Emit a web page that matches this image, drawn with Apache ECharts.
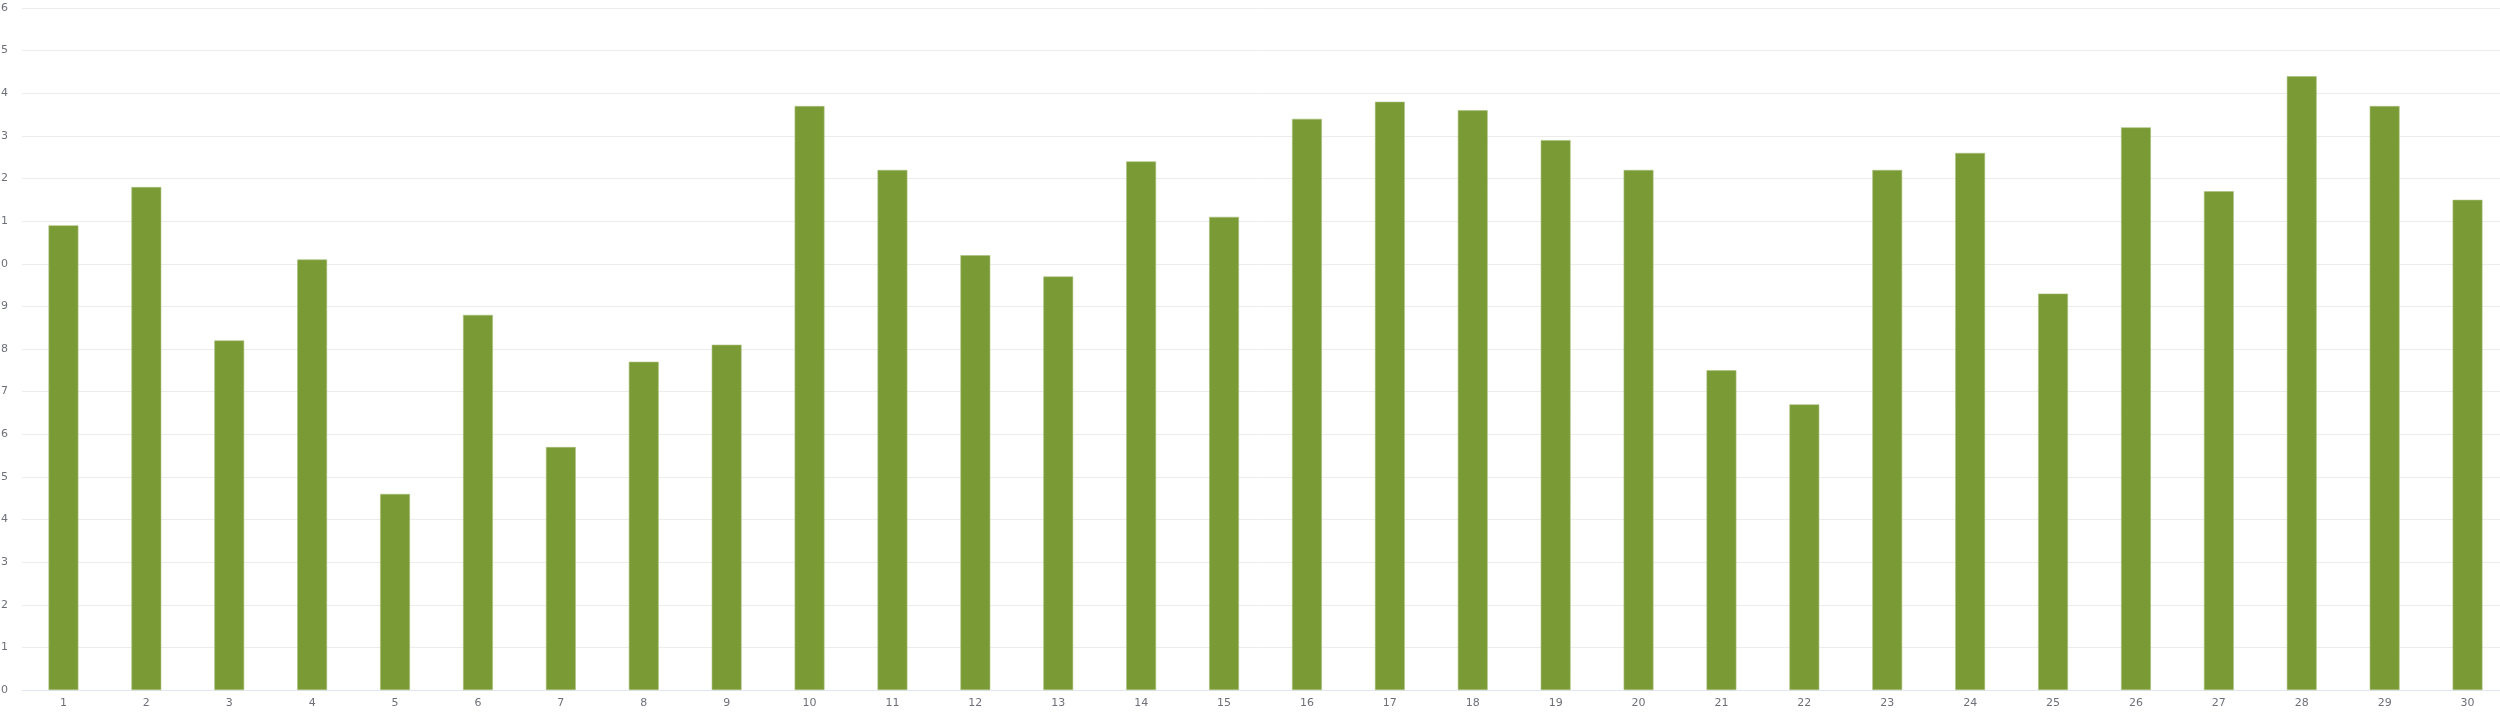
<!DOCTYPE html>
<html>
<head>
<meta charset="utf-8">
<script src="https://cdn.jsdelivr.net/npm/echarts@6/dist/echarts.min.js"></script>
<style>html,body{margin:0;padding:0;background:#fff}#c{width:2500px;height:717px}</style>
</head>
<body>
<div id="c"></div>
<script>
const categories = ['1','2','3','4','5','6','7','8','9','10','11','12','13','14','15','16','17','18','19','20','21','22','23','24','25','26','27','28','29','30'];
const values = [10.9,11.8,8.2,10.1,4.6,8.8,5.7,7.7,8.1,13.7,12.2,10.2,9.7,12.4,11.1,13.4,13.8,13.6,12.9,12.2,7.5,6.7,12.2,12.6,9.3,13.2,11.7,14.4,13.7,11.5];
const yMin = 0, yMax = 16, yStep = 1;

const chart = echarts.init(document.getElementById('c'), null, {renderer:'canvas'});
chart.setOption({
  animation: false,
  backgroundColor: '#fff',
  grid: {left: 22, width: 2487, top: 8, bottom: 27, outerBoundsMode: 'none'},
  xAxis: {
    type: 'category',
    data: categories,
    axisTick: {show: false},
    axisLine: {lineStyle: {color: '#e0e6f1', width: 1}},
    axisLabel: {color: '#6e7079', fontSize: 11, fontFamily: 'DejaVu Sans', margin: 8}
  },
  yAxis: {
    type: 'value',
    min: yMin, max: yMax, interval: yStep,
    axisLine: {show: false},
    axisTick: {show: false},
    splitLine: {lineStyle: {color: '#ececec', width: 1}},
    axisLabel: {color: '#6e7079', fontSize: 11, fontFamily: 'DejaVu Sans', margin: 14}
  },
  series: [{
    type: 'bar',
    data: values,
    barWidth: '36%',
    itemStyle: {color: '#7a9a36', borderColor: '#a9c07a', borderWidth: 0.6}
  }]
});
</script>
</body>
</html>
